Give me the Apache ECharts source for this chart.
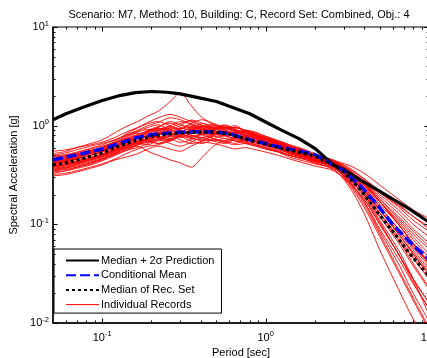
<!DOCTYPE html>
<html>
<head>
<meta charset="utf-8">
<script src="https://cdn.jsdelivr.net/npm/echarts@6/dist/echarts.min.js"></script>
<style>
  html, body { margin: 0; padding: 0; background: #fff; }
  #chart { width: 427px; height: 358px; }
</style>
</head>
<body>
<div id="chart"></div>
<script>
// ---- Spectral data (period in sec, Sa in g) ----
const FONT = '"Liberation Sans", Arial, Helvetica, sans-serif';
const titleText = 'Scenario: M7, Method: 10, Building: C, Record Set: Combined, Obj.: 4';

// period grid of the target / conditional mean / set median
const targetPeriods = [0.05, 0.06, 0.075, 0.1, 0.13, 0.16, 0.2, 0.25, 0.3, 0.4, 0.5, 0.6, 0.8, 1.0, 1.25, 1.6, 2.0, 2.6, 3.0, 3.8, 4.8, 6.0, 7.5, 10];
const medianPlus2Sigma = [1.15, 1.32, 1.52, 1.80, 2.03, 2.16, 2.22, 2.18, 2.10, 1.90, 1.76, 1.57, 1.32, 1.09, 0.90, 0.74, 0.59, 0.40, 0.36, 0.28, 0.225, 0.18, 0.145, 0.105];
const conditionalMean  = [0.45, 0.48, 0.52, 0.58, 0.67, 0.75, 0.81, 0.84, 0.86, 0.87, 0.86, 0.83, 0.72, 0.66, 0.60, 0.555, 0.51, 0.40, 0.35, 0.245, 0.16, 0.10, 0.068, 0.044];
const medianRecSet     = [0.40, 0.42, 0.46, 0.53, 0.63, 0.71, 0.78, 0.82, 0.84, 0.86, 0.86, 0.82, 0.71, 0.65, 0.59, 0.54, 0.49, 0.40, 0.34, 0.225, 0.135, 0.085, 0.052, 0.030];

// period grid of the individual record spectra
const recordPeriods = [0.05, 0.06, 0.07, 0.085, 0.1, 0.12, 0.14, 0.165, 0.19, 0.22, 0.26, 0.3, 0.35, 0.41, 0.48, 0.56, 0.65, 0.75, 0.87, 1.0, 1.2, 1.4, 1.7, 2.0, 2.6, 3.2, 4.0, 5.0, 6.5, 8.0, 10];
const individualRecords = [
  [0.52,0.55,0.60,0.66,0.72,0.85,0.98,1.10,1.25,1.40,1.75,2.15,1.60,1.20,1.05,0.95,1.00,0.88,0.80,0.74,0.66,0.60,0.54,0.48,0.42,0.34,0.25,0.16,0.10,0.065,0.042],
  [0.36,0.37,0.39,0.42,0.46,0.52,0.58,0.62,0.55,0.50,0.45,0.42,0.38,0.48,0.62,0.70,0.66,0.72,0.68,0.63,0.58,0.52,0.48,0.44,0.38,0.28,0.17,0.09,0.045,0.025,0.014],
  [0.45,0.47,0.50,0.55,0.60,0.70,0.82,0.95,1.05,1.10,1.00,0.92,1.05,1.15,1.02,0.90,0.84,0.88,0.80,0.72,0.64,0.60,0.55,0.50,0.43,0.36,0.27,0.19,0.13,0.09,0.065],
  [0.40,0.43,0.46,0.50,0.55,0.62,0.66,0.75,0.88,0.95,0.85,0.80,0.92,1.00,0.94,0.88,0.95,0.90,0.82,0.76,0.68,0.62,0.56,0.50,0.44,0.40,0.33,0.25,0.18,0.14,0.115],
  [0.34,0.35,0.37,0.40,0.44,0.50,0.56,0.60,0.66,0.72,0.78,0.72,0.66,0.70,0.80,0.86,0.78,0.70,0.66,0.62,0.56,0.50,0.46,0.42,0.36,0.25,0.13,0.055,0.022,0.011,0.006],
  [0.42,0.44,0.47,0.52,0.57,0.63,0.72,0.80,0.76,0.70,0.78,0.92,0.98,0.90,0.82,0.78,0.74,0.80,0.76,0.70,0.62,0.55,0.50,0.46,0.40,0.30,0.20,0.12,0.07,0.045,0.028],
  [0.38,0.40,0.43,0.46,0.50,0.56,0.62,0.70,0.82,0.90,0.95,0.88,0.80,0.76,0.82,0.92,0.96,0.86,0.76,0.68,0.60,0.56,0.52,0.46,0.38,0.28,0.18,0.10,0.05,0.028,0.016],
  [0.48,0.50,0.53,0.58,0.62,0.68,0.74,0.70,0.75,0.85,0.95,1.05,1.12,1.00,0.92,0.96,0.88,0.82,0.78,0.74,0.70,0.64,0.58,0.52,0.44,0.36,0.27,0.18,0.115,0.08,0.056],
  [0.32,0.33,0.35,0.38,0.41,0.46,0.52,0.58,0.62,0.64,0.70,0.78,0.74,0.72,0.78,0.74,0.70,0.68,0.64,0.60,0.54,0.48,0.44,0.41,0.37,0.29,0.20,0.11,0.055,0.028,0.012],
  [0.44,0.46,0.49,0.54,0.58,0.66,0.76,0.86,0.92,0.84,0.80,0.86,0.95,1.05,0.98,0.86,0.80,0.74,0.70,0.66,0.60,0.56,0.50,0.45,0.39,0.31,0.22,0.14,0.08,0.052,0.033],
  [0.36,0.38,0.41,0.45,0.49,0.55,0.60,0.64,0.70,0.78,0.74,0.68,0.72,0.82,0.90,0.94,0.86,0.78,0.72,0.66,0.60,0.54,0.49,0.44,0.38,0.27,0.16,0.08,0.035,0.018,0.009],
  [0.50,0.53,0.57,0.62,0.66,0.72,0.80,0.90,1.00,1.08,1.20,1.15,1.02,0.94,0.88,0.84,0.86,0.90,0.86,0.78,0.70,0.64,0.57,0.51,0.45,0.38,0.29,0.21,0.15,0.11,0.085],
  [0.39,0.41,0.44,0.47,0.51,0.58,0.64,0.68,0.72,0.76,0.72,0.78,0.86,0.80,0.74,0.70,0.76,0.72,0.68,0.64,0.58,0.52,0.48,0.44,0.38,0.30,0.21,0.13,0.075,0.046,0.028],
  [0.46,0.48,0.51,0.56,0.60,0.68,0.78,0.84,0.80,0.88,0.98,0.90,0.84,0.92,0.86,0.80,0.74,0.70,0.74,0.70,0.64,0.58,0.53,0.48,0.42,0.33,0.24,0.15,0.09,0.058,0.038],
  [0.31,0.32,0.34,0.37,0.40,0.45,0.48,0.52,0.58,0.62,0.58,0.55,0.62,0.68,0.66,0.62,0.58,0.60,0.57,0.54,0.50,0.46,0.42,0.39,0.35,0.27,0.18,0.10,0.05,0.026,0.014],
  [0.43,0.45,0.48,0.53,0.57,0.64,0.70,0.78,0.86,0.94,0.88,0.82,0.78,0.84,0.94,1.00,0.92,0.84,0.80,0.74,0.67,0.60,0.54,0.49,0.42,0.34,0.25,0.17,0.11,0.075,0.05],
  [0.41,0.43,0.46,0.50,0.54,0.60,0.66,0.74,0.70,0.66,0.72,0.80,0.88,0.96,1.04,0.96,0.88,0.80,0.74,0.70,0.64,0.58,0.53,0.48,0.41,0.32,0.22,0.13,0.07,0.04,0.023],
  [0.37,0.39,0.42,0.46,0.50,0.57,0.63,0.66,0.74,0.82,0.90,0.84,0.76,0.70,0.74,0.80,0.84,0.80,0.74,0.67,0.60,0.54,0.50,0.46,0.40,0.33,0.25,0.17,0.105,0.07,0.046],
  [0.55,0.57,0.60,0.64,0.68,0.76,0.86,0.96,1.08,1.20,1.30,1.22,1.10,1.00,0.95,0.92,0.96,0.90,0.84,0.78,0.70,0.62,0.56,0.50,0.43,0.35,0.26,0.17,0.10,0.063,0.04],
  [0.35,0.37,0.40,0.43,0.47,0.53,0.60,0.68,0.78,0.74,0.66,0.62,0.68,0.76,0.70,0.66,0.72,0.68,0.64,0.60,0.55,0.50,0.46,0.42,0.36,0.26,0.15,0.075,0.033,0.017,0.0085],
  [0.47,0.49,0.52,0.56,0.60,0.66,0.74,0.82,0.88,0.92,1.00,1.10,1.05,0.96,0.88,0.82,0.78,0.76,0.80,0.76,0.68,0.62,0.56,0.50,0.42,0.34,0.26,0.18,0.12,0.085,0.06],
  [0.40,0.42,0.44,0.48,0.52,0.58,0.62,0.66,0.72,0.80,0.86,0.94,0.90,0.84,0.80,0.86,0.82,0.76,0.70,0.65,0.58,0.53,0.48,0.44,0.39,0.30,0.19,0.105,0.05,0.028,0.016],
  [0.33,0.35,0.38,0.42,0.46,0.52,0.58,0.64,0.68,0.74,0.80,0.86,0.80,0.74,0.70,0.74,0.70,0.66,0.62,0.58,0.54,0.50,0.47,0.44,0.40,0.34,0.27,0.20,0.14,0.10,0.075],
  [0.44,0.46,0.49,0.53,0.56,0.61,0.68,0.76,0.84,0.90,0.82,0.76,0.82,0.88,0.84,0.80,0.84,0.88,0.82,0.74,0.66,0.59,0.53,0.48,0.41,0.32,0.23,0.14,0.08,0.05,0.032],
  [0.38,0.40,0.42,0.45,0.49,0.55,0.62,0.74,0.68,0.80,0.92,0.84,0.96,0.88,0.80,0.86,0.78,0.74,0.70,0.67,0.62,0.57,0.51,0.46,0.41,0.33,0.23,0.14,0.08,0.05,0.03],
  [0.42,0.44,0.46,0.50,0.55,0.60,0.70,0.66,0.74,0.86,0.80,0.94,1.02,0.92,1.00,0.90,0.82,0.86,0.78,0.72,0.65,0.58,0.52,0.47,0.41,0.35,0.28,0.21,0.155,0.12,0.09],
  [0.35,0.36,0.38,0.41,0.45,0.51,0.56,0.64,0.72,0.66,0.74,0.82,0.76,0.82,0.74,0.68,0.74,0.78,0.70,0.64,0.58,0.53,0.49,0.45,0.39,0.29,0.17,0.085,0.04,0.02,0.0105],
  [0.49,0.51,0.54,0.59,0.64,0.72,0.80,0.88,0.96,1.02,0.92,1.00,1.14,1.06,0.96,1.02,0.92,0.84,0.80,0.75,0.68,0.61,0.55,0.49,0.43,0.35,0.26,0.17,0.10,0.064,0.04],
  [0.37,0.38,0.41,0.44,0.48,0.54,0.60,0.66,0.64,0.72,0.84,0.78,0.70,0.66,0.72,0.68,0.64,0.66,0.62,0.58,0.54,0.50,0.46,0.43,0.38,0.31,0.22,0.14,0.085,0.055,0.035],
  [0.43,0.45,0.48,0.52,0.56,0.62,0.70,0.80,0.90,0.98,1.06,0.96,0.90,0.98,0.90,0.84,0.90,0.84,0.78,0.72,0.66,0.60,0.54,0.49,0.43,0.34,0.24,0.15,0.09,0.06,0.04],
  [0.39,0.41,0.43,0.47,0.51,0.57,0.64,0.70,0.80,0.76,0.70,0.80,0.90,0.98,0.90,0.82,0.78,0.72,0.74,0.68,0.62,0.56,0.51,0.46,0.40,0.31,0.21,0.12,0.065,0.038,0.022],
  [0.46,0.48,0.51,0.55,0.59,0.64,0.72,0.78,0.86,0.96,1.10,1.02,0.94,0.86,0.92,0.98,0.90,0.80,0.76,0.72,0.66,0.60,0.55,0.50,0.44,0.37,0.29,0.22,0.16,0.12,0.095]
];

// axis tick positions (decades carry labels)
const xTickValues = [0.06,0.07,0.08,0.09, 0.1,0.2,0.3,0.4,0.5,0.6,0.7,0.8,0.9, 1,2,3,4,5,6,7,8,9, 10];
const yTickValues = [0.01,0.02,0.03,0.04,0.05,0.06,0.07,0.08,0.09, 0.1,0.2,0.3,0.4,0.5,0.6,0.7,0.8,0.9, 1,2,3,4,5,6,7,8,9, 10];

// ---- helpers ----
const isDecade = v => Math.abs(Math.log10(v) - Math.round(Math.log10(v))) < 1e-6;
const pow10Label = v => isDecade(v) ? '{b|10}{s|' + Math.round(Math.log10(v)) + '}' : '';
const pairs = (xs, ys) => ys.map((y, i) => [xs[i], y]);

const labelRich = {
  b: { fontFamily: FONT, fontSize: 11, color: '#000' },
  s: { fontFamily: FONT, fontSize: 7.5, color: '#000', padding: [0, 0, 7, 0] }
};

function tickRenderer(dir) {
  return function (params, api) {
    const cs = params.coordSys;
    const v = api.value(dir === 'x' ? 0 : 1);
    const len = isDecade(v) ? 4.5 : 2.5;
    const st = { stroke: '#000', lineWidth: 1 };
    if (dir === 'x') {
      const x = Math.round(api.coord([v, 1])[0]) + 0.5;
      const b = cs.y + cs.height, t = cs.y;
      return { type: 'group', children: [
        { type: 'line', shape: { x1: x, y1: b, x2: x, y2: b - len }, style: st },
        { type: 'line', shape: { x1: x, y1: t, x2: x, y2: t + len }, style: st }
      ]};
    }
    const y = Math.round(api.coord([1, v])[1]) + 0.5;
    const l = cs.x, r = cs.x + cs.width;
    return { type: 'group', children: [
      { type: 'line', shape: { x1: l, y1: y, x2: l + len, y2: y }, style: st },
      { type: 'line', shape: { x1: r, y1: y, x2: r - len, y2: y }, style: st }
    ]};
  };
}

// ---- series ----
const series = [];
individualRecords.forEach(rec => {
  series.push({
    name: 'Individual Records', type: 'line', data: pairs(recordPeriods, rec),
    symbol: 'none', smooth: 0.3, z: 2, silent: true,
    lineStyle: { color: '#ff0000', width: 0.9 }, itemStyle: { color: '#ff0000' }
  });
});
series.push({
  name: 'Median + 2σ Prediction', type: 'line', data: pairs(targetPeriods, medianPlus2Sigma),
  symbol: 'none', z: 3, silent: true,
  lineStyle: { color: '#000', width: 3.2 }, itemStyle: { color: '#000' }
});
series.push({
  name: 'Conditional Mean', type: 'line', data: pairs(targetPeriods, conditionalMean),
  symbol: 'none', z: 4, silent: true,
  lineStyle: { color: '#0000ff', width: 3.5, type: [10, 4] }, itemStyle: { color: '#0000ff' }
});
series.push({
  name: 'Median of Rec. Set', type: 'line', data: pairs(targetPeriods, medianRecSet),
  symbol: 'none', z: 5, silent: true,
  lineStyle: { color: '#000', width: 3.2, type: [3, 3] }, itemStyle: { color: '#000' }
});
series.push({
  type: 'custom', silent: true, z: 6, clip: false,
  data: xTickValues.map(v => [v, 1]), encode: { x: 0, y: 1 },
  renderItem: tickRenderer('x')
});
series.push({
  type: 'custom', silent: true, z: 6, clip: false,
  data: yTickValues.map(v => [1, v]), encode: { x: 0, y: 1 },
  renderItem: tickRenderer('y')
});

const chart = echarts.init(document.getElementById('chart'), null, { renderer: 'canvas' });
chart.setOption({
  animation: false,
  backgroundColor: '#fff',
  title: {
    text: titleText, left: 239, top: 9, padding: 0, textAlign: 'center',
    textStyle: { fontFamily: FONT, fontSize: 11, fontWeight: 'normal', color: '#000' }
  },
  grid: {
    left: 53, top: 27, bottom: 35, right: -2,
    containLabel: false, outerBoundsMode: 'none',
    show: true, borderColor: '#000', borderWidth: 1, backgroundColor: '#fff'
  },
  legend: {
    data: [
      { name: 'Median + 2σ Prediction' },
      { name: 'Conditional Mean' },
      { name: 'Median of Rec. Set' },
      { name: 'Individual Records', lineStyle: { width: 1 } }
    ],
    orient: 'vertical', left: 54, top: 249,
    itemWidth: 33, itemHeight: 12, itemGap: 3.7,
    padding: [6, 7, 3, 11],
    backgroundColor: '#fff', borderColor: '#000', borderWidth: 1, borderRadius: 0,
    selectedMode: false,
    itemStyle: { opacity: 0 },
    textStyle: { fontFamily: FONT, fontSize: 11, color: '#000', padding: [0, 0, 0, -3] }
  },
  xAxis: {
    type: 'log', logBase: 10, min: 0.05, max: 10,
    name: 'Period [sec]', nameLocation: 'middle', nameGap: 24,
    nameTextStyle: { fontFamily: FONT, fontSize: 11, color: '#000' },
    axisLine: { lineStyle: { color: '#000', width: 1.5 } },
    axisTick: { show: false },
    splitLine: { show: false },
    axisLabel: { formatter: pow10Label, rich: labelRich, margin: 7, showMinLabel: true, hideOverlap: false }
  },
  yAxis: {
    type: 'log', logBase: 10, min: 0.01, max: 10,
    name: 'Spectral Acceleration [g]', nameLocation: 'middle', nameGap: 33,
    nameTextStyle: { fontFamily: FONT, fontSize: 11, color: '#000' },
    axisLine: { show: true, lineStyle: { color: '#000', width: 1.5 } },
    axisTick: { show: false },
    splitLine: { show: false },
    axisLabel: { formatter: pow10Label, rich: labelRich, margin: 4 }
  },
  series: series
});
</script>
</body>
</html>
